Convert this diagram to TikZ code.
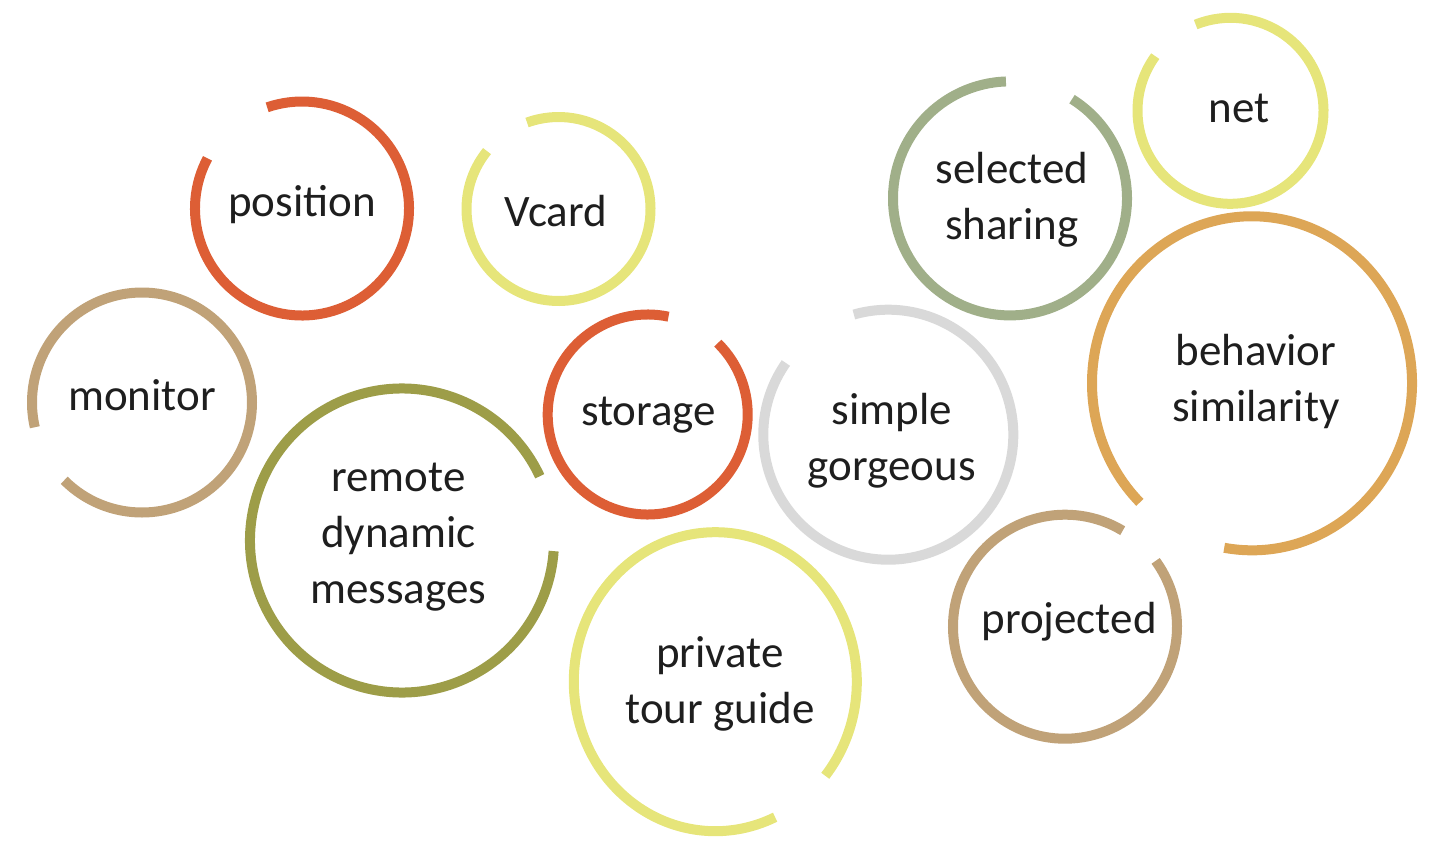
\documentclass[tikz,border=0pt]{standalone}
\usepackage{fontspec}
\setmainfont{Carlito}
\definecolor{ringred}{RGB}{221,94,53}
\definecolor{ringyellow}{RGB}{230,229,122}
\definecolor{ringtan}{RGB}{192,162,120}
\definecolor{ringolive}{RGB}{157,157,72}
\definecolor{ringsage}{RGB}{160,175,137}
\definecolor{ringorange}{RGB}{221,166,86}
\definecolor{ringgray}{RGB}{217,217,217}
\definecolor{labeltext}{RGB}{30,30,30}

\begin{document}
\begin{tikzpicture}[x=0.5pt,y=0.5pt,
  ring/.style={line width=5pt},
  lbl/.style={font=\fontsize{22.5}{28}\selectfont,align=center,anchor=base,text=labeltext,inner sep=0pt}]
\useasboundingbox (0,0) rectangle (1440,843);
\draw[ring,ringred] (302,634.5) ++(152:107) arc[start angle=152,end angle=469,radius=107];
\node[lbl] (position) at (302,626.3) {position};
\draw[ring,ringyellow] (558.5,634) ++(141:92) arc[start angle=141,end angle=470,radius=92];
\node[lbl] (vcard) at (556,616.3) {Vcard};
\draw[ring,ringtan] (142,440.5) ++(225:110) arc[start angle=225,end angle=553,radius=110];
\node[lbl] (monitor) at (142,433) {monitor};
\draw[ring,ringolive] (402,302.5) ++(25:152) arc[start angle=25,end angle=356,radius=152];
\node[lbl] (remote) at (398.3,239.7) {remote\\dynamic\\messages};
\draw[ring,ringred] (647.7,428.5) ++(78:100) arc[start angle=78,end angle=405.5,radius=100];
\node[lbl] (storage) at (648.5,417.3) {storage};
\draw[ring,ringgray] (888.3,408.3) ++(145:125) arc[start angle=145,end angle=466,radius=125];
\node[lbl] (simple) at (891.7,363) {simple\\gorgeous};
\draw[ring,ringyellow] (715.3,161.3) ++(-39:141.5 and 149.5) arc[start angle=-39,end angle=295,x radius=141.5,y radius=149.5];
\node[lbl] (private) at (720,119.7) {private\\tour guide};
\draw[ring,ringsage] (1010,644.6) ++(92:117) arc[start angle=92,end angle=418,radius=117];
\node[lbl] (selected) at (1012,604) {selected\\sharing};
\draw[ring,ringyellow] (1230.5,732.2) ++(144:93) arc[start angle=144,end angle=472,radius=93];
\node[lbl] (net) at (1239,720.3) {net};
\draw[ring,ringorange] (1252,459.7) ++(260:160 and 167) arc[start angle=260,end angle=585.5,x radius=160,y radius=167];
\node[lbl] (behavior) at (1256,421.3) {behavior\\similarity};
\draw[ring,ringtan] (1065,216.3) ++(59:112) arc[start angle=59,end angle=396,radius=112];
\node[lbl] (projected) at (1069,210) {projected};
\end{tikzpicture}
\end{document}
